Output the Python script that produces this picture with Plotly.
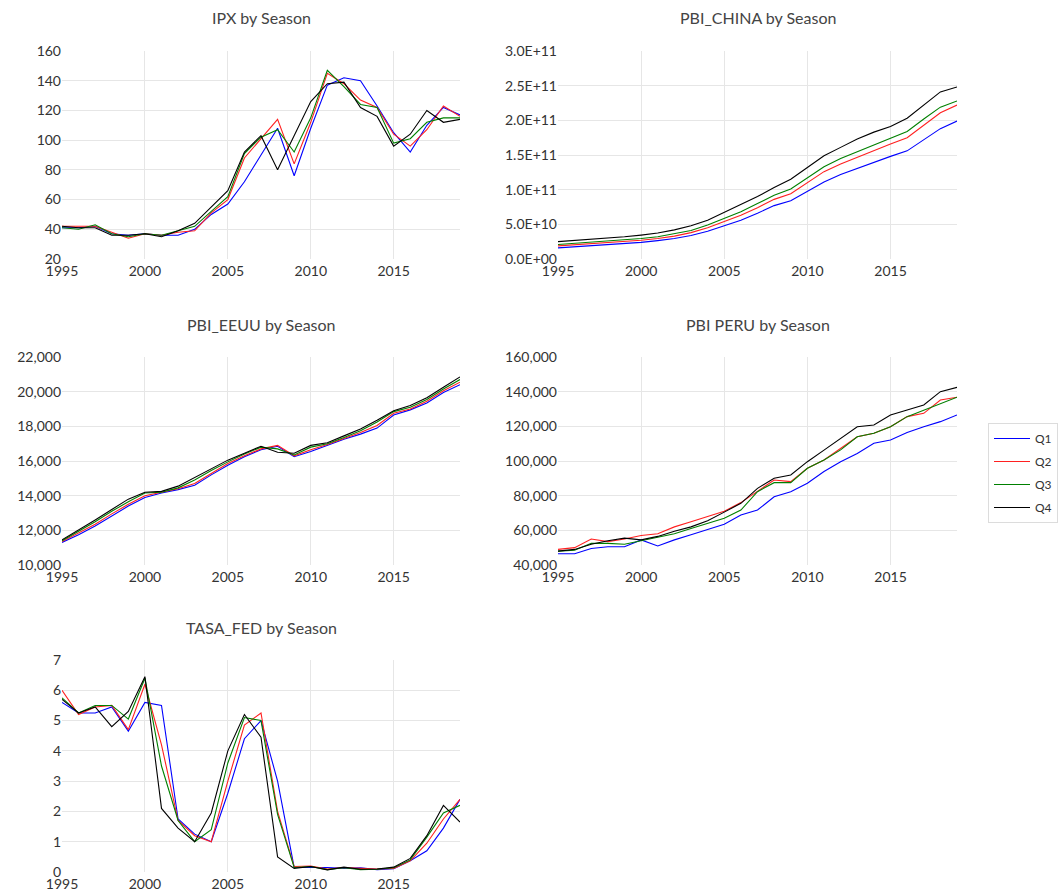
import plotly.graph_objects as go

years = list(range(1995, 2020))
quarters = ["Q1", "Q2", "Q3", "Q4"]
colors = ["#0000ff", "#ff2020", "#008000", "#000000"]

# IPX index
ipx_q1 = [41, 41, 42, 37, 36, 37, 36, 36, 40, 50, 57, 72, 90, 108, 76, 108, 137, 142, 140, 123, 105, 92, 110, 122, 117]
ipx_q2 = [42, 42, 42, 38, 34, 37, 36, 38, 39, 51, 60, 88, 101, 114, 84, 112, 145, 138, 127, 122, 104, 96, 107, 123, 116]
ipx_q3 = [41, 40, 43, 37, 35, 37, 36, 39, 42, 52, 62, 91, 102, 107, 92, 115, 147, 136, 124, 122, 98, 101, 112, 115, 115]
ipx_q4 = [42, 41, 41, 36, 36, 37, 35, 39, 44, 55, 66, 92, 103, 80, 103, 126, 138, 139, 122, 116, 96, 104, 120, 112, 114]

# China GDP (billions)
china_q1 = [16, 17.5, 19, 20.5, 22, 24, 26.5, 29.5, 34, 40, 48, 56, 66, 77, 84, 97, 111, 122, 131, 140, 148, 156, 172, 188, 199]
china_q2 = [19, 20.5, 22, 23.5, 25, 27, 29.5, 33, 38, 45, 54, 63, 74, 86, 94, 110, 126, 137, 147, 157, 166, 175, 193, 211, 222]
china_q3 = [21, 22.5, 24, 25.5, 27, 29.5, 32, 36, 41, 49, 58, 68, 80, 92, 101, 117, 133, 145, 155, 165, 174, 184, 202, 219, 228]
china_q4 = [25, 26.5, 28, 30, 32, 34.5, 37.5, 42, 48, 56, 67, 78, 90, 103, 115, 132, 149, 161, 173, 183, 191, 203, 222, 241, 248]

# US GDP
eeuu_q1 = [11300, 11750, 12250, 12850, 13400, 13900, 14150, 14350, 14600, 15200, 15750, 16250, 16650, 16850, 16250, 16550, 16900, 17250, 17550, 17900, 18650, 18950, 19350, 19950, 20400]
eeuu_q2 = [11350, 11850, 12350, 12950, 13500, 14000, 14200, 14400, 14700, 15300, 15850, 16300, 16700, 16900, 16300, 16650, 16950, 17300, 17650, 18050, 18750, 19000, 19450, 20050, 20550]
eeuu_q3 = [11400, 11950, 12500, 13100, 13650, 14150, 14200, 14450, 14900, 15450, 15950, 16400, 16800, 16700, 16350, 16800, 17000, 17350, 17750, 18250, 18850, 19100, 19550, 20150, 20700]
eeuu_q4 = [11450, 12000, 12600, 13200, 13800, 14200, 14250, 14550, 15050, 15550, 16050, 16450, 16850, 16500, 16450, 16900, 17050, 17450, 17850, 18350, 18900, 19200, 19650, 20250, 20850]

# Peru GDP
peru_q1 = [46500, 46500, 49500, 50500, 50500, 54500, 51000, 54500, 57500, 60500, 63500, 68800, 71700, 79400, 82300, 87200, 93900, 99600, 104300, 110200, 112100, 116400, 119800, 122700, 126600]
peru_q2 = [49000, 50000, 55000, 53500, 55000, 57000, 58000, 62000, 65000, 68000, 71000, 76000, 82300, 89000, 88100, 95800, 100600, 107300, 114000, 116000, 119800, 125600, 127500, 135200, 136800]
peru_q3 = [48000, 48500, 52500, 52500, 52000, 54000, 56000, 58000, 61000, 64000, 67000, 71700, 82300, 87500, 87500, 95800, 100600, 106400, 114000, 116000, 119800, 125600, 129400, 132900, 136800]
peru_q4 = [48000, 49000, 52000, 54000, 55500, 54500, 56500, 59500, 62000, 65500, 70500, 75600, 84200, 90000, 91900, 99600, 106300, 113100, 119800, 120800, 126500, 129400, 132300, 140000, 142500]

# Fed funds rate
fed_q1 = [5.6, 5.25, 5.25, 5.45, 4.65, 5.6, 5.5, 1.75, 1.25, 1.0, 2.6, 4.4, 5.0, 3.0, 0.15, 0.15, 0.15, 0.12, 0.14, 0.08, 0.11, 0.37, 0.7, 1.45, 2.4]
fed_q2 = [6.0, 5.2, 5.45, 5.5, 4.7, 6.2, 4.2, 1.7, 1.2, 1.0, 3.0, 4.85, 5.25, 2.0, 0.18, 0.2, 0.1, 0.15, 0.12, 0.1, 0.12, 0.37, 0.95, 1.75, 2.4]
fed_q3 = [5.75, 5.25, 5.5, 5.5, 5.05, 6.4, 3.5, 1.7, 1.0, 1.4, 3.6, 5.1, 5.0, 1.9, 0.15, 0.18, 0.08, 0.14, 0.08, 0.09, 0.14, 0.4, 1.15, 1.95, 2.2]
fed_q4 = [5.7, 5.25, 5.45, 4.8, 5.3, 6.45, 2.1, 1.45, 1.0, 1.95, 4.0, 5.2, 4.45, 0.5, 0.12, 0.18, 0.07, 0.16, 0.09, 0.1, 0.16, 0.45, 1.2, 2.2, 1.65]

china_tickvals = [0, 5e10, 1e11, 1.5e11, 2e11, 2.5e11, 3e11]
china_ticktext = ["0.0E+00", "5.0E+10", "1.0E+11", "1.5E+11", "2.0E+11", "2.5E+11", "3.0E+11"]

panels = [
    ("IPX by Season", [ipx_q1, ipx_q2, ipx_q3, ipx_q4], 1),
    ("PBI_CHINA by Season", [[v * 1e9 for v in s] for s in (china_q1, china_q2, china_q3, china_q4)], 2),
    ("PBI_EEUU by Season", [eeuu_q1, eeuu_q2, eeuu_q3, eeuu_q4], 3),
    ("PBI PERU by Season", [peru_q1, peru_q2, peru_q3, peru_q4], 4),
    ("TASA_FED by Season", [fed_q1, fed_q2, fed_q3, fed_q4], 5),
]

W, H = 1061, 896
left, right, top, bottom = 62, 104, 51, 24
pw = W - left - right
ph = H - top - bottom
col_px = [(62, 460), (558, 957)]
row_px = [(51, 259), (357, 565), (660, 872)]


def xdom(c):
    a, b = col_px[c]
    return [(a - left) / pw, (b - left) / pw]


def ydom(r):
    a, b = row_px[r]
    return [1 - (b - top) / ph, 1 - (a - top) / ph]


font_family = "Lato, 'Open Sans', sans-serif"
tick_font = dict(size=14, color="#333")
fig = go.Figure()
layout = dict(
    width=W, height=H,
    margin=dict(l=left, r=right, t=top, b=bottom, autoexpand=False),
    paper_bgcolor="white", plot_bgcolor="white",
    font=dict(family=font_family, size=13, color="#333"),
    showlegend=True,
    legend=dict(
        x=(988 - left) / pw, y=1 - (423 - top) / ph, xanchor="left", yanchor="top",
        bordercolor="#dcdcdc", borderwidth=1, font=dict(size=12, color="#333"),
        bgcolor="white", tracegroupgap=4, itemwidth=36,
    ),
    annotations=[],
)

y_specs = {
    1: dict(range=[20, 160], dtick=20),
    2: dict(range=[0, 3e11], tickvals=china_tickvals, ticktext=china_ticktext),
    3: dict(range=[10000, 22000], dtick=2000, tickformat=","),
    4: dict(range=[40000, 160000], dtick=20000, tickformat=","),
    5: dict(range=[0, 7], dtick=1),
}

for title, series, k in panels:
    r, c = divmod(k - 1, 2)
    suffix = "" if k == 1 else str(k)
    xa, ya = "x" + suffix, "y" + suffix
    for q, vals, col in zip(quarters, series, colors):
        fig.add_trace(go.Scatter(
            x=years, y=vals, mode="lines", name=q, legendgroup=q,
            showlegend=(k == 1), line=dict(color=col, width=1.1),
            xaxis=xa, yaxis=ya,
        ))
    layout["xaxis" + suffix] = dict(
        domain=xdom(c), anchor=ya, range=[1995, 2019], dtick=5, tick0=1995,
        showgrid=True, gridcolor="#e6e6e6", gridwidth=1, zeroline=False,
        showline=False, ticks="", tickfont=tick_font, ticklabelstandoff=2,
        automargin=False,
    )
    layout["yaxis" + suffix] = dict(
        domain=ydom(r), anchor=xa, showgrid=True, gridcolor="#e6e6e6", gridwidth=1,
        zeroline=False, showline=False, ticks="", tickfont=tick_font,
        automargin=False, **y_specs[k],
    )
    a, b = col_px[c]
    layout["annotations"].append(dict(
        text=title, x=(a + b) / 2, y=row_px[r][0] - 33, xref="paper", yref="paper",
        showarrow=False, font=dict(size=16, color="#444"),
    ))

# convert annotation pixel positions to paper coordinates
for ann in layout["annotations"]:
    ann["x"] = (ann["x"] - left) / pw
    ann["y"] = 1 - (ann["y"] - top) / ph
    ann["xanchor"] = "center"
    ann["yanchor"] = "middle"

fig.update_layout(**layout)
fig.write_html("out.html")
